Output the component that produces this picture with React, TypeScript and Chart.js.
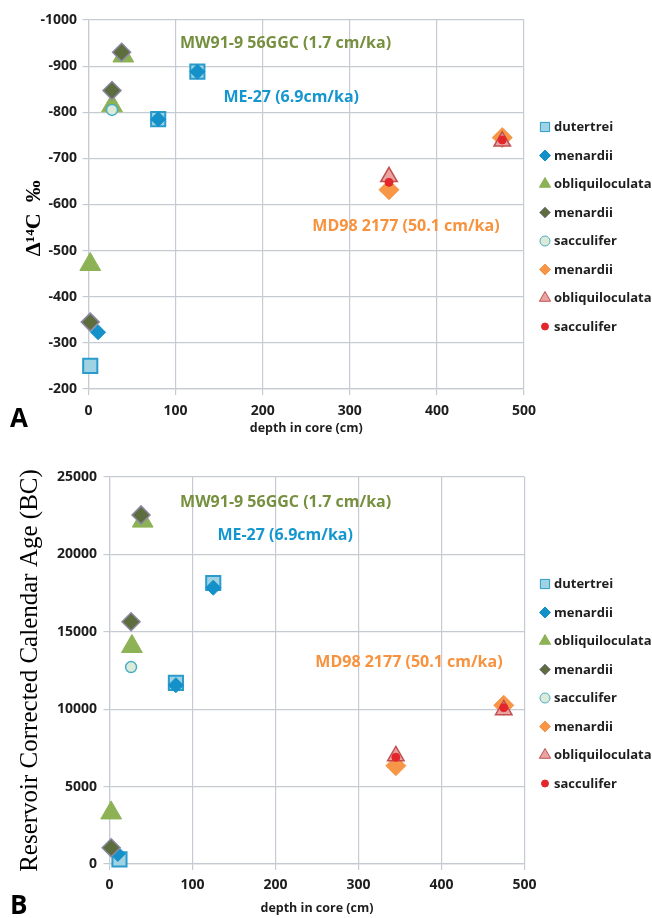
import React, { useEffect, useRef } from 'react';
import { Chart, registerables } from 'chart.js';
import { drawPoint } from 'chart.js/helpers';

Chart.register(...registerables);

// ---------- data ----------
const seriesNames = ['dutertrei', 'menardii', 'obliquiloculata', 'menardii', 'sacculifer', 'menardii', 'obliquiloculata', 'sacculifer'];

// Panel A : Δ14C (‰) vs depth in core (cm)
const aDepthDutertrei = [2, 80, 125];
const aD14cDutertrei = [-250, -785, -888];
const aDepthMenardiiME = [11, 80, 125];
const aD14cMenardiiME = [-323, -785, -888];
const aDepthObliqMW = [2, 27, 40];
const aD14cObliqMW = [-470, -814, -922];
const aDepthMenardiiMW = [2, 27, 38];
const aD14cMenardiiMW = [-345, -847, -930];
const aDepthSaccMW = [27];
const aD14cSaccMW = [-805];
const aDepthMenardiiMD = [345, 475];
const aD14cMenardiiMD = [-632, -745];
const aDepthObliqMD = [345, 475];
const aD14cObliqMD = [-660, -737];
const aDepthSaccMD = [345, 475];
const aD14cSaccMD = [-648, -740];

// Panel B : Reservoir corrected calendar age (BC) vs depth in core (cm)
const bDepthDutertrei = [12, 80, 125];
const bAgeDutertrei = [300, 11700, 18150];
const bDepthMenardiiME = [10, 80, 125];
const bAgeMenardiiME = [650, 11550, 17850];
const bDepthObliqMW = [2, 27, 40];
const bAgeObliqMW = [3300, 14050, 22150];
const bDepthMenardiiMW = [2, 26, 38];
const bAgeMenardiiMW = [1050, 15650, 22550];
const bDepthSaccMW = [26];
const bAgeSaccMW = [12720];
const bDepthMenardiiMD = [345, 475];
const bAgeMenardiiMD = [6350, 10250];
const bDepthObliqMD = [345, 475];
const bAgeObliqMD = [6980, 9950];
const bDepthSaccMD = [345, 475];
const bAgeSaccMD = [6900, 10100];

const aTicksY = { min: -1000, max: -200, step: 100 };
const bTicksY = { min: 0, max: 25000, step: 5000 };
const ticksX = { min: 0, max: 500, step: 100 };

const coreLabels = ['MW91-9 56GGC (1.7 cm/ka)', 'ME-27 (6.9cm/ka)', 'MD98 2177 (50.1 cm/ka)'];
// label anchor positions in data units (panel A, panel B)
const aLabelX = [105, 155, 257];
const aLabelY = [-950, -833, -552];
const bLabelX = [85, 130, 248];
const bLabelY = [23385, 21250, 13050];

// ---------- styles ----------
const styles = [
  { pointStyle: 'rect', fill: '#9FD2E3', border: '#2A9CCB', bw: 2, r: 10, lr: 6.5 },
  { pointStyle: 'rectRot', fill: '#1591C9', border: '#1591C9', bw: 1, r: 7.5, lr: 5.5 },
  { pointStyle: 'triangle', fill: '#8DB255', border: '#8DB255', bw: 1, r: 12, lr: 6.5 },
  { pointStyle: 'rectRot', fill: '#5E6D3E', border: '#8B87A5', bw: 1.5, r: 9, lr: 5.5 },
  { pointStyle: 'circle', fill: '#DCEBD8', border: '#4BACC6', bw: 1.5, r: 5.5, lr: 5 },
  { pointStyle: 'rectRot', fill: '#F79646', border: '#F79646', bw: 1, r: 10, lr: 5.5 },
  { pointStyle: 'triangle', fill: '#E9A3A3', border: '#C0504D', bw: 1.5, r: 9.5, lr: 6.5 },
  { pointStyle: 'circle', fill: '#E3262B', border: '#E3262B', bw: 1, r: 4, lr: 3.5 },
];
const labelColors = ['#76903F', '#1496CE', '#F7923E'];
const gridColor = '#C6CAD2';
const textColor = '#1E1E1E';
const sans = "'Open Sans', 'DejaVu Sans', sans-serif";
const serif = "'Liberation Serif', 'Times New Roman', serif";

function pts(xs: number[], ys: number[]) {
  return xs.map((x, i) => ({ x, y: ys[i] }));
}

function buildDatasets(pairs: [number[], number[]][]) {
  return pairs.map(([xs, ys], i) => {
    const s = styles[i];
    return {
      label: seriesNames[i],
      data: pts(xs, ys),
      order: pairs.length - i,
      clip: false,
      pointStyle: s.pointStyle as any,
      pointRadius: s.r,
      pointHoverRadius: s.r,
      pointBackgroundColor: s.fill,
      pointBorderColor: s.border,
      pointBorderWidth: s.bw,
      backgroundColor: s.fill,
      borderColor: s.border,
      showLine: false,
    };
  });
}

const extrasPlugin = {
  id: 'extras',
  afterDraw(chart: any, _args: any, opts: any) {
    const { ctx, chartArea, scales } = chart;
    ctx.save();
    // custom legend (in series order)
    chart.data.datasets.forEach((ds: any, i: number) => {
      const s = styles[i];
      const y = chartArea.top + 107 + i * 28.5;
      ctx.fillStyle = s.fill;
      ctx.strokeStyle = s.border;
      ctx.lineWidth = 1;
      drawPoint(ctx, { pointStyle: s.pointStyle, radius: s.lr, borderWidth: 1, rotation: 0 } as any, 545, y);
      ctx.fillStyle = textColor;
      ctx.font = `bold 13px ${sans}`;
      ctx.textAlign = 'left';
      ctx.textBaseline = 'middle';
      ctx.fillText(ds.label, 554, y + 0.5);
    });
    // core labels
    ctx.font = `bold 16px ${sans}`;
    ctx.textAlign = 'left';
    ctx.textBaseline = 'middle';
    opts.labelX.forEach((lx: number, i: number) => {
      ctx.fillStyle = labelColors[i];
      ctx.fillText(coreLabels[i], scales.x.getPixelForValue(lx), scales.y.getPixelForValue(opts.labelY[i]));
    });
    // panel letter
    ctx.fillStyle = '#000';
    ctx.font = `bold 26px ${sans}`;
    ctx.fillText(opts.panel, 10, opts.panelY);
    ctx.restore();
  },
};

function makeOptions(cfg: any) {
  return {
    responsive: false,
    animation: false,
    devicePixelRatio: 1,
    layout: { padding: { left: 0, top: cfg.padTop, right: cfg.padRight, bottom: 0 } },
    plugins: {
      legend: { display: false },
      tooltip: { enabled: false },
      extras: { labelX: cfg.labelX, labelY: cfg.labelY, panel: cfg.panel, panelY: cfg.panelY },
    },
    scales: {
      x: {
        type: 'linear',
        min: ticksX.min,
        max: ticksX.max,
        ticks: { stepSize: ticksX.step, color: textColor, font: { family: sans, size: 14, weight: 'bold' }, padding: cfg.xTickPad },
        grid: { color: gridColor, lineWidth: 1.2, tickLength: 6 },
        border: { color: gridColor, width: 1.2 },
        title: { display: true, text: 'depth in core (cm)', color: textColor, font: { family: sans, size: 12.5, weight: 'bold' }, padding: { top: 0, bottom: cfg.xTitlePad } },
        afterFit: (s: any) => { s.height = cfg.xHeight; },
      },
      y: {
        type: 'linear',
        min: cfg.yMin,
        max: cfg.yMax,
        reverse: cfg.reverse,
        ticks: { stepSize: cfg.yStep, color: textColor, font: { family: sans, size: 14, weight: 'bold' }, padding: cfg.yTickPad, callback: (v: any) => String(v) },
        grid: { color: gridColor, lineWidth: 1.2, tickLength: 6 },
        border: { color: gridColor, width: 1.2 },
        title: { display: true, text: cfg.yTitle, color: '#000', font: { family: serif, size: cfg.yTitleSize, weight: cfg.yTitleWeight }, padding: { top: cfg.yTitlePad, bottom: 0 } },
        afterFit: (s: any) => { s.width = cfg.yWidth; },
      },
    },
  } as any;
}

export default function App() {
  const refA = useRef<HTMLCanvasElement>(null);
  const refB = useRef<HTMLCanvasElement>(null);

  useEffect(() => {
    const dsA = buildDatasets([
      [aDepthDutertrei, aD14cDutertrei],
      [aDepthMenardiiME, aD14cMenardiiME],
      [aDepthObliqMW, aD14cObliqMW],
      [aDepthMenardiiMW, aD14cMenardiiMW],
      [aDepthSaccMW, aD14cSaccMW],
      [aDepthMenardiiMD, aD14cMenardiiMD],
      [aDepthObliqMD, aD14cObliqMD],
      [aDepthSaccMD, aD14cSaccMD],
    ]);
    const dsB = buildDatasets([
      [bDepthDutertrei, bAgeDutertrei],
      [bDepthMenardiiME, bAgeMenardiiME],
      [bDepthObliqMW, bAgeObliqMW],
      [bDepthMenardiiMW, bAgeMenardiiMW],
      [bDepthSaccMW, bAgeSaccMW],
      [bDepthMenardiiMD, bAgeMenardiiMD],
      [bDepthObliqMD, bAgeObliqMD],
      [bDepthSaccMD, bAgeSaccMD],
    ]);
    const chartA = new Chart(refA.current as HTMLCanvasElement, {
      type: 'scatter',
      data: { datasets: dsA as any },
      options: makeOptions({
        padTop: 20, padRight: 128, xTickPad: 8, xTitlePad: 4, xHeight: 51,
        yMin: aTicksY.min, yMax: aTicksY.max, yStep: aTicksY.step, reverse: true,
        yTickPad: 5.5, yWidth: 88.5, yTitle: 'Δ¹⁴C  ‰     ', yTitleSize: 22, yTitleWeight: 'bold', yTitlePad: 21,
        labelX: aLabelX, labelY: aLabelY, panel: 'A', panelY: 420,
      }),
      plugins: [extrasPlugin],
    });
    const chartB = new Chart(refB.current as HTMLCanvasElement, {
      type: 'scatter',
      data: { datasets: dsB as any },
      options: makeOptions({
        padTop: 37, padRight: 127.5, xTickPad: 7, xTitlePad: 2.5, xHeight: 54,
        yMin: bTicksY.min, yMax: bTicksY.max, yStep: bTicksY.step, reverse: false,
        yTickPad: 6.5, yWidth: 109.5, yTitle: 'Reservoir Corrected Calendar Age (BC)', yTitleSize: 25, yTitleWeight: 'normal', yTitlePad: 15,
        labelX: bLabelX, labelY: bLabelY, panel: 'B', panelY: 467,
      }),
      plugins: [extrasPlugin],
    });
    return () => {
      chartA.destroy();
      chartB.destroy();
    };
  }, []);

  return (
    <div style={{ position: 'absolute', left: 0, top: 0, width: 652, height: 918, background: '#fff' }}>
      <canvas ref={refA} width={652} height={440} style={{ display: 'block', width: 652, height: 440 }} />
      <canvas ref={refB} width={652} height={478} style={{ display: 'block', width: 652, height: 478 }} />
    </div>
  );
}
